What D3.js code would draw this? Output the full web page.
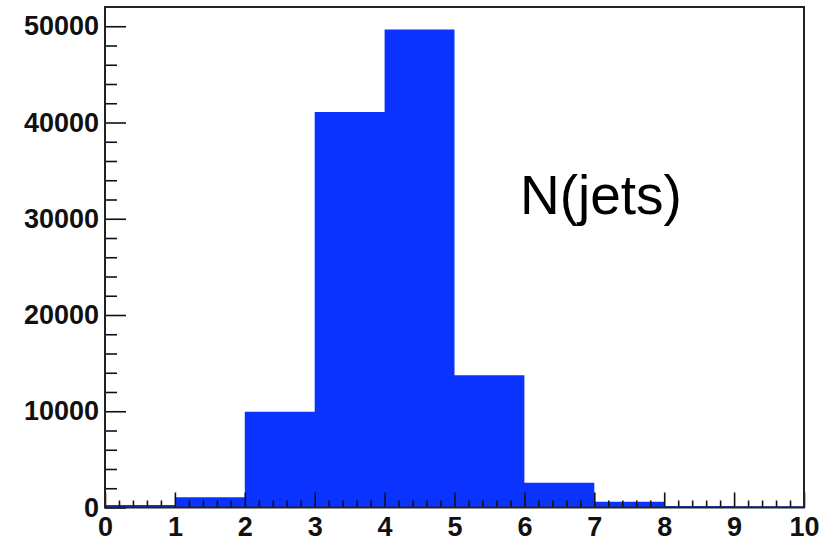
<!DOCTYPE html>
<html>
<head>
<meta charset="utf-8">
<script src="https://cdn.jsdelivr.net/npm/d3@7"></script>
<style>
  html, body { margin: 0; padding: 0; background: #fff; }
  svg { display: block; }
</style>
</head>
<body>
<div id="chart"></div>
<script>
// histogram bins (lower edges) and counts
var binEdges = [0, 1, 2, 3, 4, 5, 6, 7, 8, 9, 10];
var counts = [250, 1060, 9950, 41100, 49660, 13730, 2580, 600, 150, 120];
var xTickValues = [0, 1, 2, 3, 4, 5, 6, 7, 8, 9, 10];
var yTickValues = [0, 10000, 20000, 30000, 40000, 50000];
var histTitle = "N(jets)";

var width = 824, height = 537;
var padLeft = 105, padRight = 804, padTop = 7, padBottom = 507.5;

var svg = d3.select("#chart")
    .append("svg")
    .attr("width", width)
    .attr("height", height);

var xScale = d3.scaleLinear().domain([0, 10]).range([padLeft, padRight]);
var yScale = d3.scaleLinear().domain([0, 52000]).range([padBottom, padTop]);

var bins = counts.map(function (c, i) {
    return {x0: binEdges[i], x1: binEdges[i + 1], value: c};
});

// filled histogram drawn as one step path so the bins have no seams
var stepPoints = [];
bins.forEach(function (d) {
    stepPoints.push([d.x0, d.value]);
    stepPoints.push([d.x1, d.value]);
});
var area = d3.area()
    .x(function (d) { return xScale(d[0]); })
    .y0(yScale(0))
    .y1(function (d) { return yScale(d[1]); });

svg.append("path")
    .datum(stepPoints)
    .attr("d", area)
    .attr("fill", "#0b33ff");

function styleAxis(g) {
    g.select(".domain").remove();
    g.attr("font-size", null).attr("font-family", null);
    g.selectAll(".tick line").attr("stroke", "#111").attr("stroke-width", 1.6);
    g.selectAll(".tick text")
        .attr("fill", "#111")
        .style("font-family", "'Liberation Sans', Arial, sans-serif")
        .style("font-weight", "bold")
        .style("font-size", "27px");
}

// y axis: major + minor ticks pointing inwards
var yMinor = d3.range(0, 52000, 2000).filter(function (v) { return v % 10000 !== 0; });
svg.append("g")
    .attr("transform", `translate(${padLeft},0)`)
    .call(d3.axisLeft(yScale).tickValues(yMinor).tickSize(-12).tickFormat(""))
    .call(styleAxis);
svg.append("g")
    .attr("transform", `translate(${padLeft},0)`)
    .call(d3.axisLeft(yScale).tickValues(yTickValues).tickSize(-21).tickPadding(6).tickFormat(d3.format("d")))
    .call(styleAxis);

// x axis
var xMinor = d3.range(0, 10.01, 0.2).filter(function (v) { return Math.abs(v - Math.round(v)) > 0.01; });
svg.append("g")
    .attr("transform", `translate(0,${padBottom})`)
    .call(d3.axisBottom(xScale).tickValues(xMinor).tickSize(-7).tickFormat(""))
    .call(styleAxis);
svg.append("g")
    .attr("transform", `translate(0,${padBottom})`)
    .call(d3.axisBottom(xScale).tickValues(xTickValues).tickSize(-15).tickPadding(9).tickFormat(d3.format("d")))
    .call(styleAxis);

// frame
svg.append("rect")
    .attr("x", padLeft)
    .attr("y", padTop)
    .attr("width", padRight - padLeft)
    .attr("height", padBottom - padTop)
    .attr("fill", "none")
    .attr("stroke", "#222")
    .attr("stroke-width", 2);

// title text inside the pad
svg.append("text")
    .attr("x", 520)
    .attr("y", 214)
    .style("font-family", "'Liberation Sans', Arial, sans-serif")
    .style("font-size", "55px")
    .attr("fill", "#000")
    .text(histTitle);
</script>
</body>
</html>
